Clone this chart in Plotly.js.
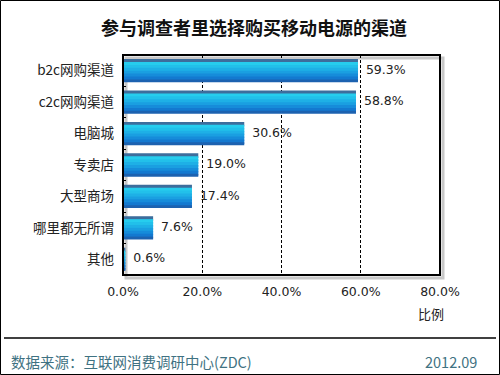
<!DOCTYPE html>
<html>
<head>
<meta charset="utf-8">
<script src="https://cdn.plot.ly/plotly-3.0.1.min.js"></script>
<style>html,body{margin:0;padding:0;background:#fff;}#chart{width:500px;height:375px;}</style>
</head>
<body>
<div id="chart"></div>
<script>
// ---- data ----
const categories = ["b2c网购渠道", "c2c网购渠道", "电脑城", "专卖店", "大型商场", "哪里都无所谓", "其他"];
const values = [59.3, 58.8, 30.6, 19.0, 17.4, 7.6, 0.6];
const valueLabels = ["59.3%", "58.8%", "30.6%", "19.0%", "17.4%", "7.6%", "0.6%"];
const xTickVals = [0, 20, 40, 60, 80];
const xTickText = ["0.0%", "20.0%", "40.0%", "60.0%", "80.0%"];

// ---- layout helpers (pixel -> paper) ----
const L = 123, R = 440, T = 55, B = 275;
const px = p => (p - L) / (R - L);
const py = p => (B - p) / (B - T);

const FONT = "'Noto Sans CJK SC', 'Noto Sans', sans-serif";
const NUMFONT = "'DejaVu Sans', sans-serif";

// gradient bands (top to bottom) to imitate shaded bars
const bandColors = ["#3d6d9c", "#26cdee", "#22c0ea", "#1eb0e6", "#1a9fe1", "#168cda", "#1379d0", "#1c62b0"];
const barW = 0.74;
const bw = barW / bandColors.length;
const traces = bandColors.map((c, i) => ({
  type: "bar", orientation: "h",
  y: categories, x: values,
  width: (i === bandColors.length - 1) ? bw : bw * 1.6,
  offset: -barW / 2 + i * bw,
  marker: { color: c, line: { width: 0 } },
  hoverinfo: "skip", showlegend: false
}));
traces.push({
  type: "scatter", mode: "text",
  y: categories, x: values,
  text: valueLabels, texttemplate: "\u00a0\u00a0%{text}", textposition: "middle right",
  textfont: { family: NUMFONT, size: 12.5, color: "#222" },
  cliponaxis: false, hoverinfo: "skip", showlegend: false
});

const layout = {
  width: 500, height: 375,
  margin: { l: L, r: 500 - R, t: T, b: 375 - B },
  paper_bgcolor: "#fff", plot_bgcolor: "#fff",
  barmode: "overlay",
  font: { family: FONT, size: 12, color: "#222" },
  title: { text: "<b>参与调查者里选择购买移动电源的渠道</b>", font: { family: FONT, size: 18, color: "#111" },
           x: 0.508, xanchor: "center", y: 1 - 29 / 375, yanchor: "middle", yref: "container" },
  xaxis: {
    range: [0, 80], tickvals: xTickVals, ticktext: xTickText,
    showgrid: true, gridcolor: "#000", griddash: "3px,2px", gridwidth: 1,
    zeroline: false, showline: false, ticks: "", fixedrange: true,
    ticklabelstandoff: 7,
    tickfont: { family: NUMFONT, size: 12.5, color: "#222" }
  },
  yaxis: {
    autorange: "reversed", type: "category",
    showline: false, ticks: "inside", tickson: "boundaries", ticklen: 3, tickcolor: "#000",
    ticklabelstandoff: 8,
    tickfont: { family: FONT, size: 13.5, color: "#222" }, fixedrange: true
  },
  shapes: [
    // outer border
    { type: "rect", xref: "paper", yref: "paper", x0: px(0.5), x1: px(499.5), y0: py(0.5), y1: py(374.5), line: { color: "#000", width: 1 } },
    // frame shadow
    { type: "rect", xref: "paper", yref: "paper", x0: px(L + 3), x1: px(R + 3), y0: py(B + 3), y1: py(T + 3), line: { color: "#c8c8c8", width: 3 }, layer: "below" },
    // plot frame
    { type: "rect", xref: "paper", yref: "paper", x0: 0, x1: 1, y0: 0, y1: 1, line: { color: "#000", width: 2 } },
    // footer line
    { type: "line", xref: "paper", yref: "paper", x0: px(4), x1: px(496), y0: py(338), y1: py(338), line: { color: "#000", width: 1.5 } }
  ],
  annotations: [
    { text: "比例", xref: "paper", yref: "paper", x: px(431), y: py(313), xanchor: "center", yanchor: "middle", showarrow: false, font: { family: FONT, size: 13, color: "#222" } },
    { text: "数据来源：互联网消费调研中心(ZDC)", xref: "paper", yref: "paper", x: px(9), y: py(361), xanchor: "left", yanchor: "middle", showarrow: false, font: { family: FONT, size: 14.5, color: "#3f7282" } },
    { text: "2012.09", xref: "paper", yref: "paper", x: px(479), y: py(361), xanchor: "right", yanchor: "middle", showarrow: false, font: { family: FONT, size: 14.5, color: "#3f7282" } }
  ]
};

Plotly.newPlot("chart", traces, layout, { displayModeBar: false, staticPlot: true });
</script>
</body>
</html>
